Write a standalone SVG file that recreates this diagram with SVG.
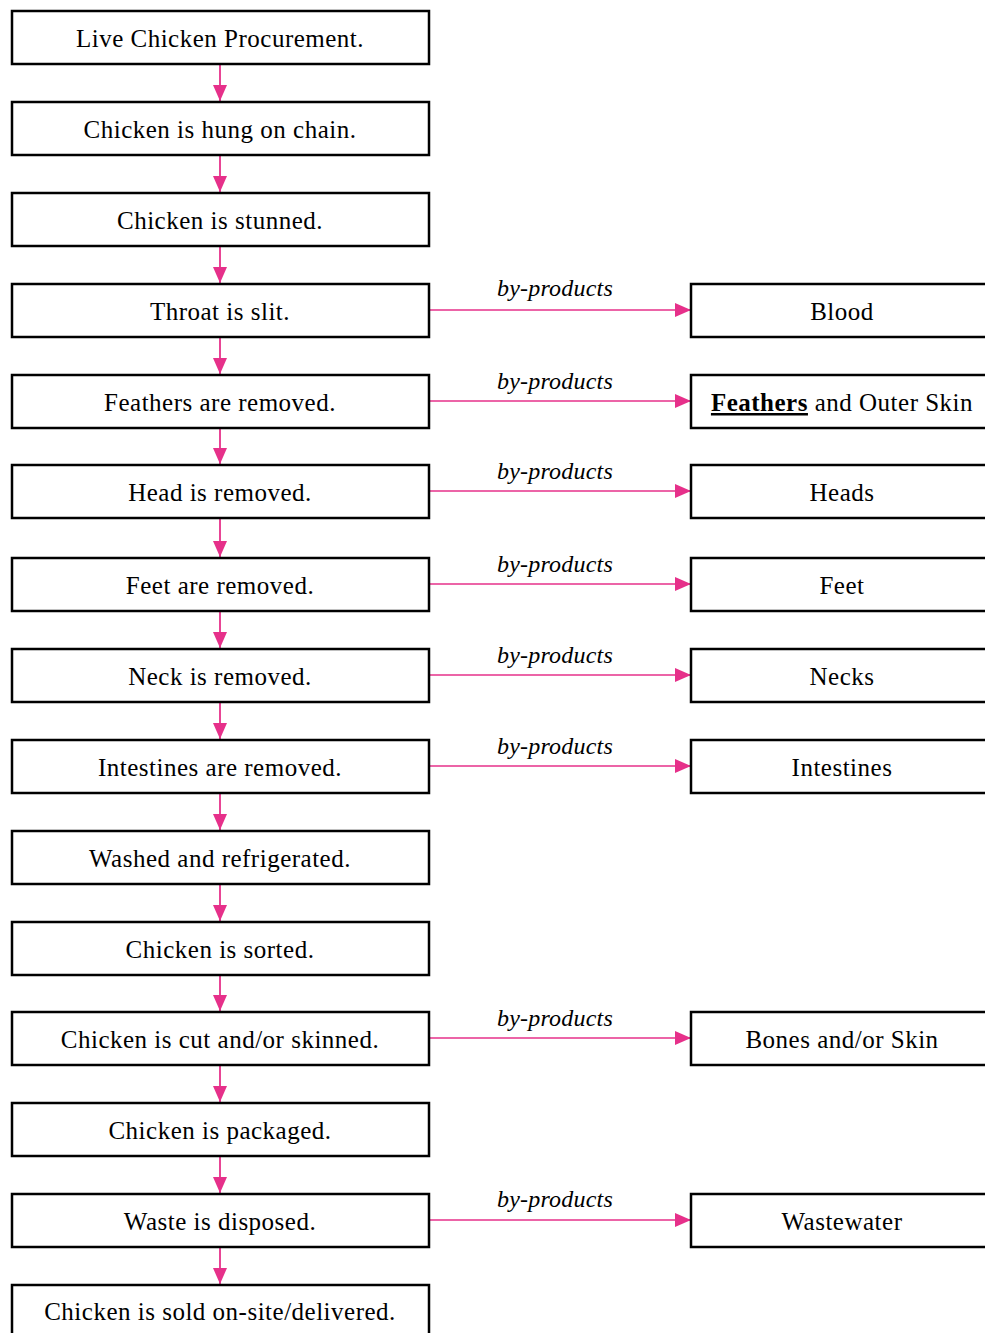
<svg xmlns="http://www.w3.org/2000/svg" width="985" height="1333" viewBox="0 0 985 1333">
<style>
.box{fill:#fff;stroke:#000;stroke-width:2.5}
.t{font-family:"Liberation Serif","DejaVu Serif",serif;font-size:25px;letter-spacing:0.5px;text-anchor:middle;fill:#000}
.lbl{font-family:"Liberation Serif","DejaVu Serif",serif;font-size:24px;letter-spacing:0.2px;font-style:italic;text-anchor:middle;fill:#000}
.v{stroke:#e6308a;stroke-width:1.8;fill:none;marker-end:url(#ah)}
.h{stroke:#e6308a;stroke-width:1.5;fill:none;marker-end:url(#ah)}
</style>
<defs>
<marker id="ah" markerUnits="userSpaceOnUse" markerWidth="16" markerHeight="16" viewBox="0 0 16 16" refX="16" refY="8" orient="auto">
<path d="M0,1 L16,8 L0,15 Z" fill="#e6308a"/>
</marker>
</defs>
<rect width="985" height="1333" fill="#fff"/>
<g id="connectors">
<line class="v" x1="220" y1="64" x2="220" y2="101"/>
<line class="v" x1="220" y1="155" x2="220" y2="192"/>
<line class="v" x1="220" y1="246" x2="220" y2="283"/>
<line class="v" x1="220" y1="337" x2="220" y2="374"/>
<line class="v" x1="220" y1="428" x2="220" y2="464"/>
<line class="v" x1="220" y1="518" x2="220" y2="557"/>
<line class="v" x1="220" y1="611" x2="220" y2="648"/>
<line class="v" x1="220" y1="702" x2="220" y2="739"/>
<line class="v" x1="220" y1="793" x2="220" y2="830"/>
<line class="v" x1="220" y1="884" x2="220" y2="921"/>
<line class="v" x1="220" y1="975" x2="220" y2="1011"/>
<line class="v" x1="220" y1="1065" x2="220" y2="1102"/>
<line class="v" x1="220" y1="1156" x2="220" y2="1193"/>
<line class="v" x1="220" y1="1247" x2="220" y2="1284"/>
<line class="h" x1="429" y1="310" x2="691" y2="310"/>
<line class="h" x1="429" y1="401" x2="691" y2="401"/>
<line class="h" x1="429" y1="491" x2="691" y2="491"/>
<line class="h" x1="429" y1="584" x2="691" y2="584"/>
<line class="h" x1="429" y1="675" x2="691" y2="675"/>
<line class="h" x1="429" y1="766" x2="691" y2="766"/>
<line class="h" x1="429" y1="1038" x2="691" y2="1038"/>
<line class="h" x1="429" y1="1220" x2="691" y2="1220"/>
<text class="lbl" x="555" y="296">by-products</text>
<text class="lbl" x="555" y="389">by-products</text>
<text class="lbl" x="555" y="479">by-products</text>
<text class="lbl" x="555" y="572">by-products</text>
<text class="lbl" x="555" y="663">by-products</text>
<text class="lbl" x="555" y="754">by-products</text>
<text class="lbl" x="555" y="1026">by-products</text>
<text class="lbl" x="555" y="1207">by-products</text>
</g>
<g id="n1"><rect class="box" x="12" y="11" width="417" height="53"/><text class="t" x="220" y="47">Live Chicken Procurement.</text></g>
<g id="n2"><rect class="box" x="12" y="102" width="417" height="53"/><text class="t" x="220" y="138">Chicken is hung on chain.</text></g>
<g id="n3"><rect class="box" x="12" y="193" width="417" height="53"/><text class="t" x="220" y="229">Chicken is stunned.</text></g>
<g id="n4"><rect class="box" x="12" y="284" width="417" height="53"/><text class="t" x="220" y="320">Throat is slit.</text></g>
<g id="n5"><rect class="box" x="12" y="375" width="417" height="53"/><text class="t" x="220" y="411">Feathers are removed.</text></g>
<g id="n6"><rect class="box" x="12" y="465" width="417" height="53"/><text class="t" x="220" y="501">Head is removed.</text></g>
<g id="n7"><rect class="box" x="12" y="558" width="417" height="53"/><text class="t" x="220" y="594">Feet are removed.</text></g>
<g id="n8"><rect class="box" x="12" y="649" width="417" height="53"/><text class="t" x="220" y="685">Neck is removed.</text></g>
<g id="n9"><rect class="box" x="12" y="740" width="417" height="53"/><text class="t" x="220" y="776">Intestines are removed.</text></g>
<g id="n10"><rect class="box" x="12" y="831" width="417" height="53"/><text class="t" x="220" y="867">Washed and refrigerated.</text></g>
<g id="n11"><rect class="box" x="12" y="922" width="417" height="53"/><text class="t" x="220" y="958">Chicken is sorted.</text></g>
<g id="n12"><rect class="box" x="12" y="1012" width="417" height="53"/><text class="t" x="220" y="1048">Chicken is cut and/or skinned.</text></g>
<g id="n13"><rect class="box" x="12" y="1103" width="417" height="53"/><text class="t" x="220" y="1139">Chicken is packaged.</text></g>
<g id="n14"><rect class="box" x="12" y="1194" width="417" height="53"/><text class="t" x="220" y="1230">Waste is disposed.</text></g>
<g id="n15"><rect class="box" x="12" y="1285" width="417" height="53"/><text class="t" x="220" y="1320">Chicken is sold on-site/delivered.</text></g>
<g id="r1"><rect class="box" x="691" y="284" width="310" height="53"/><text class="t" x="842" y="320">Blood</text></g>
<g id="r2"><rect class="box" x="691" y="375" width="310" height="53"/><text class="t" x="842" y="411"><tspan font-weight="bold" text-decoration="underline">Feathers</tspan> and Outer Skin</text></g>
<g id="r3"><rect class="box" x="691" y="465" width="310" height="53"/><text class="t" x="842" y="501">Heads</text></g>
<g id="r4"><rect class="box" x="691" y="558" width="310" height="53"/><text class="t" x="842" y="594">Feet</text></g>
<g id="r5"><rect class="box" x="691" y="649" width="310" height="53"/><text class="t" x="842" y="685">Necks</text></g>
<g id="r6"><rect class="box" x="691" y="740" width="310" height="53"/><text class="t" x="842" y="776">Intestines</text></g>
<g id="r7"><rect class="box" x="691" y="1012" width="310" height="53"/><text class="t" x="842" y="1048">Bones and/or Skin</text></g>
<g id="r8"><rect class="box" x="691" y="1194" width="310" height="53"/><text class="t" x="842" y="1230">Wastewater</text></g>
</svg>
